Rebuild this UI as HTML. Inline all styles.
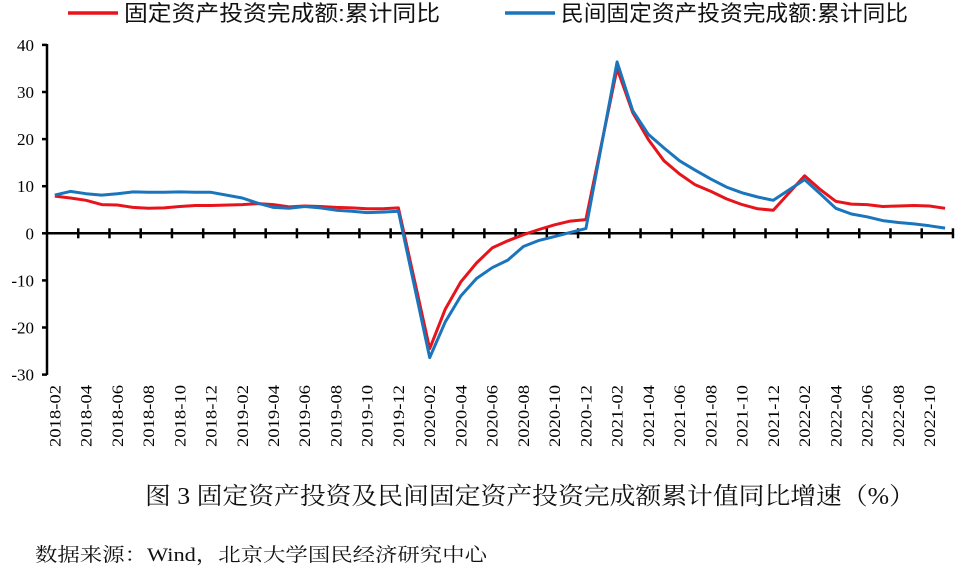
<!DOCTYPE html>
<html><head><meta charset="utf-8"><style>
body{margin:0;background:#fff;width:960px;height:568px;overflow:hidden}
svg{display:block}
</style></head><body>
<svg id="s" width="960" height="568" xmlns="http://www.w3.org/2000/svg" font-family="Liberation Serif, Noto Serif CJK SC, serif">
<line x1="68" y1="13" x2="118" y2="13" stroke="#e8141c" stroke-width="3.5"/>
<text x="124" y="21" font-size="22" textLength="316" lengthAdjust="spacingAndGlyphs" font-family="Liberation Sans, Noto Sans CJK SC, sans-serif" fill="#111">固定资产投资完成额:累计同比</text>
<line x1="505" y1="13" x2="555" y2="13" stroke="#1a75bc" stroke-width="3.5"/>
<text x="561" y="21" font-size="22" textLength="347" lengthAdjust="spacingAndGlyphs" font-family="Liberation Sans, Noto Sans CJK SC, sans-serif" fill="#111">民间固定资产投资完成额:累计同比</text>
<g id="ax" stroke="#000" stroke-width="2.5"></g>
<g id="yl" font-size="17" text-anchor="end" fill="#000"></g>
<g id="xl" font-size="16" fill="#000"></g>
<polyline id="r" fill="none" stroke="#e8141c" stroke-width="3" stroke-linejoin="round"/>
<polyline id="b" fill="none" stroke="#1a75bc" stroke-width="3" stroke-linejoin="round"/>
<text x="145" y="504" font-size="24" textLength="770" lengthAdjust="spacingAndGlyphs" fill="#111">图 3 固定资产投资及民间固定资产投资完成额累计值同比增速（%）</text>
<text x="35" y="561" font-size="19" textLength="452" lengthAdjust="spacingAndGlyphs" fill="#111">数据来源：Wind，北京大学国民经济研究中心</text>
</svg>
<script>
var NS="http://www.w3.org/2000/svg";
function el(t,a,p,txt){var e=document.createElementNS(NS,t);for(var k in a)e.setAttribute(k,a[k]);if(txt!=null)e.textContent=txt;document.getElementById(p).appendChild(e);return e;}
var y0=233.3,k=4.71;function Y(v){return y0-v*k;}
var X0=47,cw=15.62;function X(i){return X0+cw*(i+0.5);}
el('line',{x1:47,y1:44,x2:47,y2:375},'ax');
el('line',{x1:47,y1:y0,x2:954,y2:y0},'ax');
for(var v=-30;v<=40;v+=10){el('line',{x1:42,y1:Y(v),x2:47,y2:Y(v)},'ax');el('text',{x:34,y:Y(v)+6},'yl',v);}
for(var j=1;j<=29;j++){var x=X0+j*cw*2;el('line',{x1:x,y1:y0-5,x2:x,y2:y0+5},'ax');}
for(var j=0;j<29;j++){var m=2+2*j;var yr=2018+Math.floor((m-1)/12);var mo=((m-1)%12)+1;var lab=yr+'-'+(mo<10?'0':'')+mo;var x=X(2*j)+5.5;el('text',{x:x,y:385,transform:'rotate(-90 '+x+' 385)','text-anchor':'end',textLength:62,lengthAdjust:'spacingAndGlyphs'},'xl',lab);}
var R=[7.9,7.5,7.0,6.1,6.0,5.5,5.3,5.4,5.7,5.9,5.9, 6.1,6.3,6.1,5.6,5.8,5.7,5.5,5.4,5.2,5.2,5.4, -24.5,-16.1,-10.3,-6.3,-3.1,-1.6,-0.3,0.8,1.8,2.6,2.9, 35.0,25.6,19.9,15.4,12.6,10.3,8.9,7.3,6.1,5.2,4.9, 12.2,9.3,6.8,6.2,6.1,5.7,5.8,5.9,5.8,5.3];
var B=[8.1,8.9,8.4,8.1,8.4,8.8,8.7,8.7,8.8,8.7,8.7, 7.5,6.4,5.5,5.3,5.7,5.4,4.9,4.7,4.4,4.5,4.7, -26.4,-18.8,-13.3,-9.6,-7.3,-5.7,-2.8,-1.5,-0.7,0.2,1.0, 36.4,26.0,21.0,18.1,15.4,13.4,11.5,9.8,8.6,7.7,7.0, 11.4,8.4,5.3,4.1,3.5,2.7,2.3,2.0,1.6,1.1];
function pts(d){var p=[],n=0;for(var i=0;i<58;i++){var mo=(i+1)%12;if(mo==0)continue;p.push(X(i).toFixed(1)+','+Y(d[n++]).toFixed(1));}return p.join(' ');}
document.getElementById('r').setAttribute('points',pts(R));
document.getElementById('b').setAttribute('points',pts(B));
</script>
</body></html>
